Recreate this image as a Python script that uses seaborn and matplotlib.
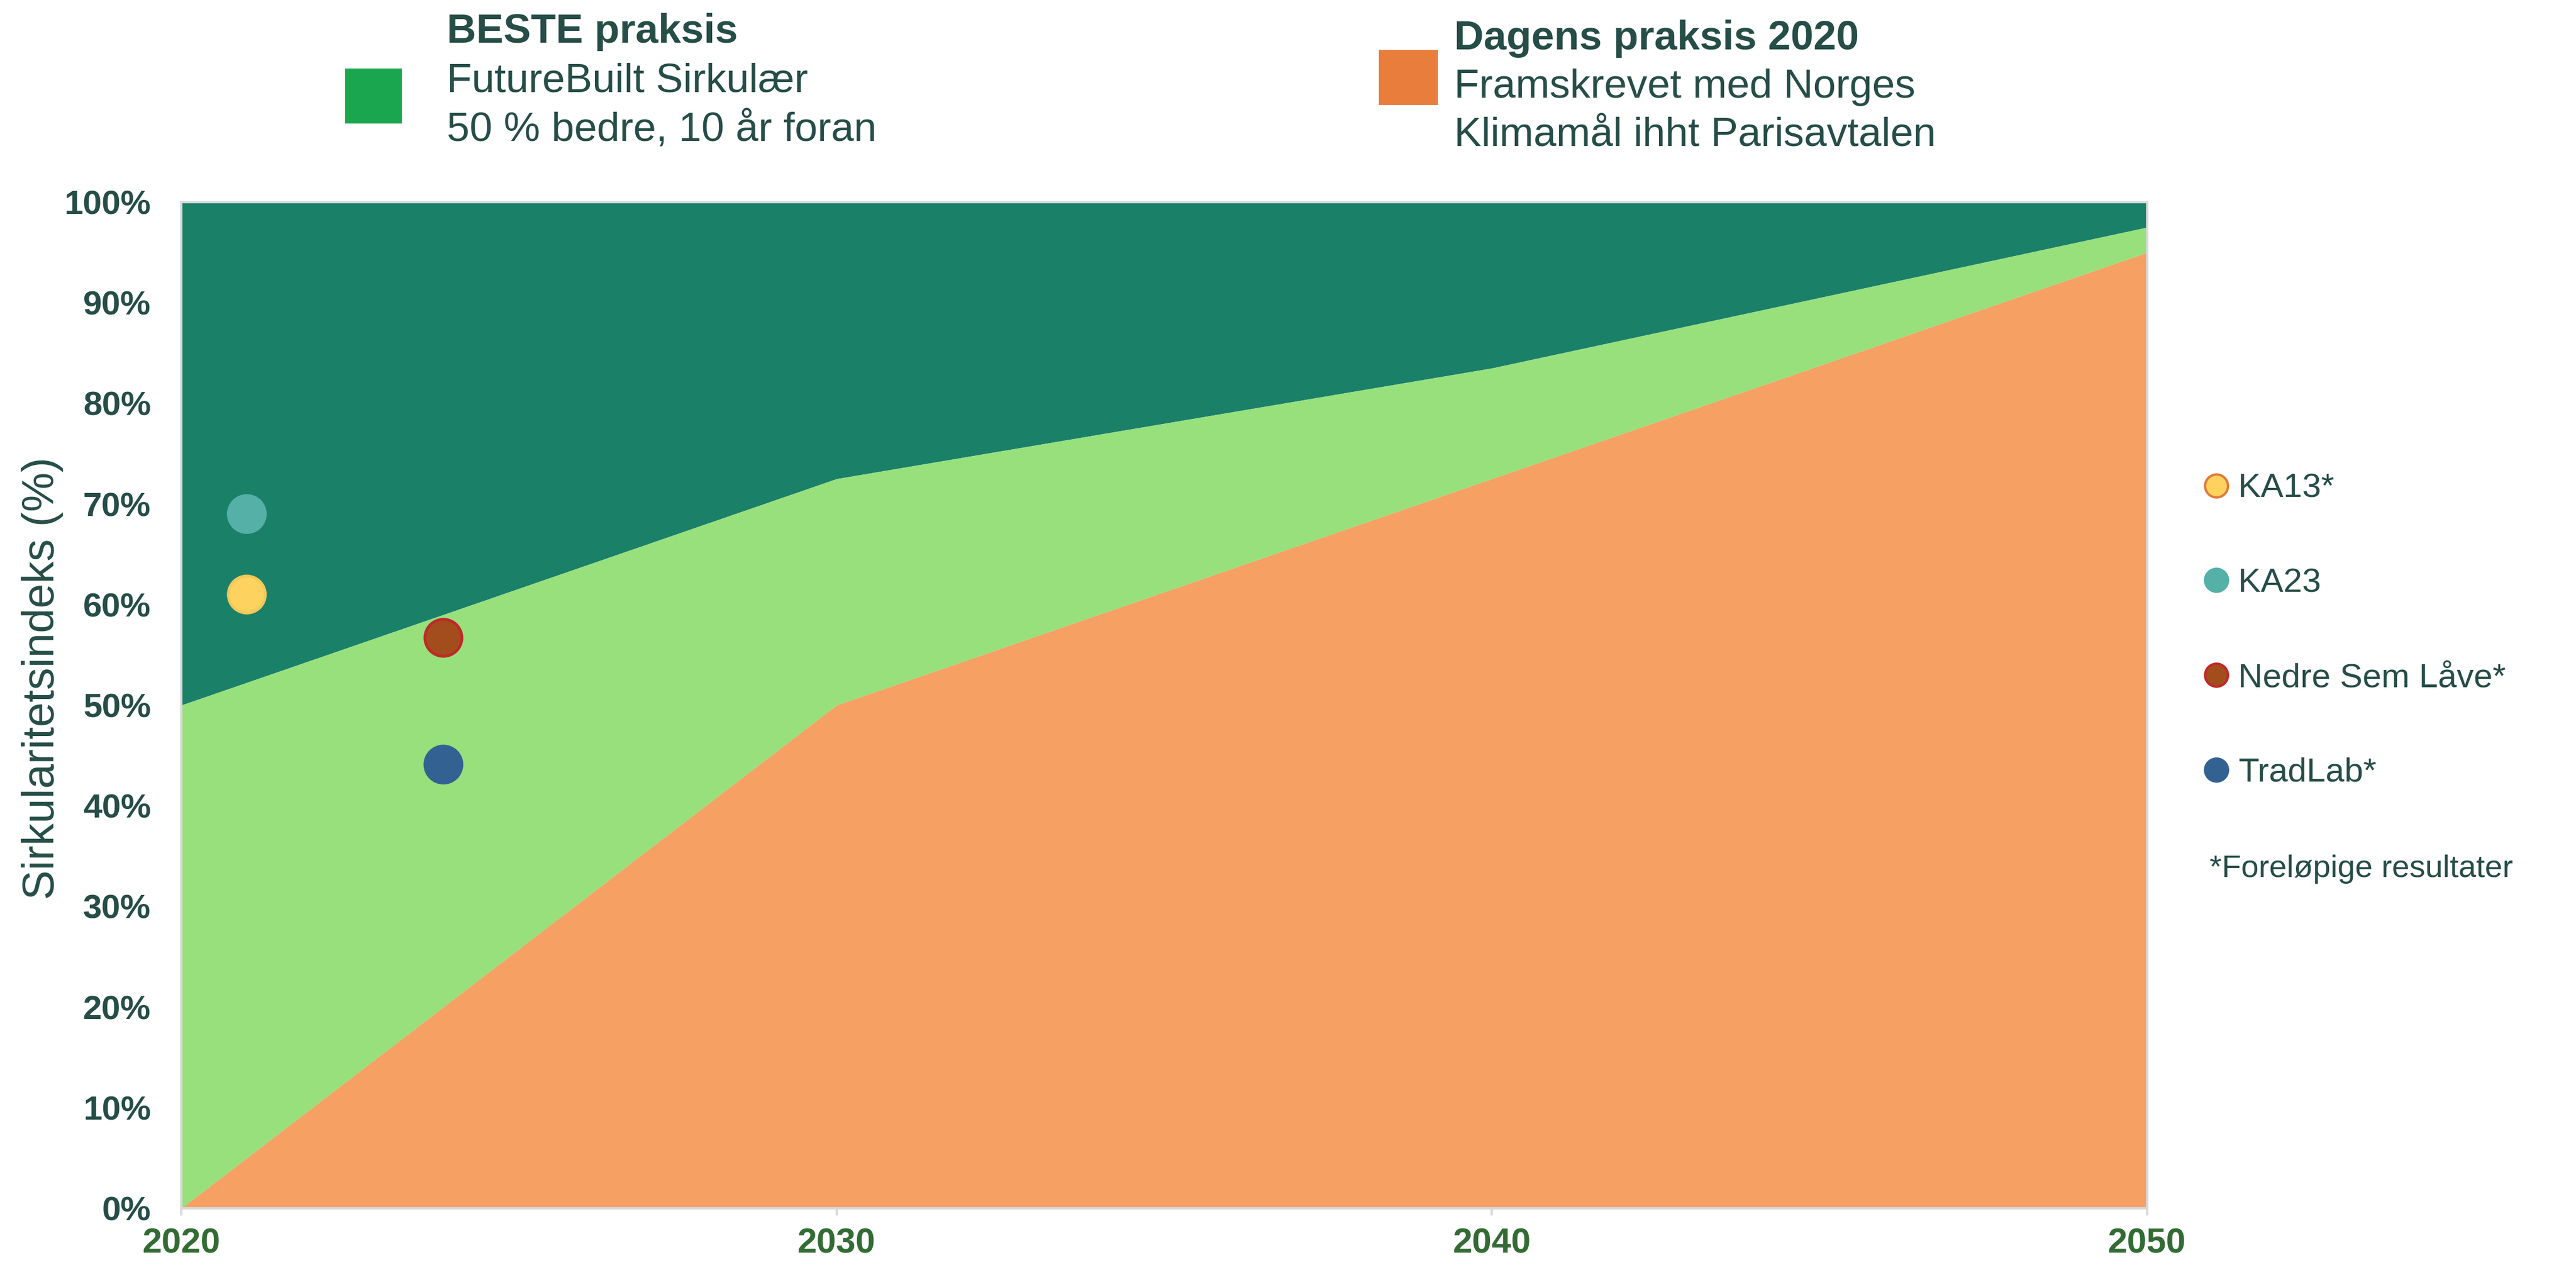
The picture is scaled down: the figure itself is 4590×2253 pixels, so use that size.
import numpy as np
import pandas as pd
import matplotlib
matplotlib.use("Agg")
import matplotlib.pyplot as plt
from matplotlib.patches import Rectangle
from matplotlib.ticker import PercentFormatter
import seaborn as sns

# area data (percent)
years = [2020, 2030, 2040, 2050]
beste_praksis = [50, 72.5, 83.5, 97.5]
dagens_praksis = [0, 50, 72.5, 95]
top_level = [100, 100, 100, 100]

# project results
proj_names = ["KA13*", "KA23", "Nedre Sem Låve*", "TradLab*"]
proj_years = [2021, 2021, 2024, 2024]
proj_values = [61, 69, 56.7, 44.1]
proj_colors = ["#fed25e", "#55b0a8", "#a34d1c", "#336192"]
proj_edges = ["#f3c85a", "#55b0a8", "#c0282a", "#336192"]
legend_edges = ["#e07b39", "#55b0a8", "#c0282a", "#336192"]

txt_col = "#264d47"
xtick_col = "#336b34"
frame_col = "#d9d9d9"

sns.set_theme(style="white")
plt.rcParams["font.family"] = ["Liberation Sans", "DejaVu Sans"]

fig = plt.figure(figsize=(15.3, 7.51), dpi=300)
W, H = 4590, 2253
ax = fig.add_axes([323 / W, 1 - 2152 / H, (3826 - 323) / W, (2152 - 360) / H])

ax.fill_between(years, beste_praksis, top_level, color="#1b8068", lw=0)
ax.fill_between(years, dagens_praksis, beste_praksis, color="#97e07c", lw=0)
ax.fill_between(years, 0, dagens_praksis, color="#f6a063", lw=0)

df = pd.DataFrame({"navn": proj_names, "aar": proj_years, "verdi": proj_values})
sns.scatterplot(data=df, x="aar", y="verdi", hue="navn",
                palette=dict(zip(proj_names, proj_colors)),
                s=250, linewidth=1.2, zorder=5, ax=ax)
ax.collections[-1].set_edgecolor(proj_edges)

ax.set_xlim(2020, 2050)
ax.set_ylim(0, 100)
ax.set_xticks([2020, 2030, 2040, 2050])
ax.set_yticks(np.arange(0, 101, 10))
ax.yaxis.set_major_formatter(PercentFormatter(decimals=0))
ax.tick_params(axis="y", length=0, pad=13, labelsize=14.5, labelcolor=txt_col)
ax.tick_params(axis="x", length=3, width=1, color=frame_col, pad=5,
               labelsize=15, labelcolor=xtick_col, bottom=True)
for lab in ax.get_xticklabels() + ax.get_yticklabels():
    lab.set_fontweight("bold")
for sp in ax.spines.values():
    sp.set_visible(True)
    sp.set_color(frame_col)
    sp.set_linewidth(1)

ax.set_xlabel("")
ax.set_ylabel("Sirkularitetsindeks (%)", fontsize=19, color=txt_col)
ax.yaxis.set_label_coords(-0.060, 0.527)

# right legend
leg = ax.legend(loc="upper left", bbox_to_anchor=((3949 - 21) / W, 1 - 843 / H),
                bbox_transform=fig.transFigure, frameon=False, fontsize=14.5,
                labelspacing=1.88, handlelength=0.7, handletextpad=0.3,
                borderpad=0, borderaxespad=0)
for h, fc, ec in zip(leg.legend_handles, proj_colors, legend_edges):
    h.set_markerfacecolor(fc)
    h.set_markeredgecolor(ec)
    h.set_markersize(9.8)
    h.set_markeredgewidth(1)
for t in leg.get_texts():
    t.set_color(txt_col)
fig.text(3937 / W, 1 - 1548 / H, "*Foreløpige resultater", fontsize=13.5,
         color=txt_col, va="center", ha="left")

# header legend
fig.add_artist(Rectangle((615 / W, 1 - 220 / H), 101 / W, 98 / H,
                         transform=fig.transFigure, color="#1aa64f", lw=0))
fig.add_artist(Rectangle((2457 / W, 1 - 187 / H), 105 / W, 98 / H,
                         transform=fig.transFigure, color="#e97d3c", lw=0))
fig.text(796 / W, 1 - 76 / H, "BESTE praksis", fontsize=17.5, fontweight="bold",
         color=txt_col, va="baseline")
fig.text(796 / W, 1 - 164 / H, "FutureBuilt Sirkulær", fontsize=17.5,
         color=txt_col, va="baseline")
fig.text(796 / W, 1 - 250 / H, "50 % bedre, 10 år foran", fontsize=17.5,
         color=txt_col, va="baseline")
fig.text(2591 / W, 1 - 88 / H, "Dagens praksis 2020", fontsize=17.5,
         fontweight="bold", color=txt_col, va="baseline")
fig.text(2591 / W, 1 - 174 / H, "Framskrevet med Norges", fontsize=17.5,
         color=txt_col, va="baseline")
fig.text(2591 / W, 1 - 260 / H, "Klimamål ihht Parisavtalen", fontsize=17.5,
         color=txt_col, va="baseline")

fig.savefig("out.png", dpi=300)
